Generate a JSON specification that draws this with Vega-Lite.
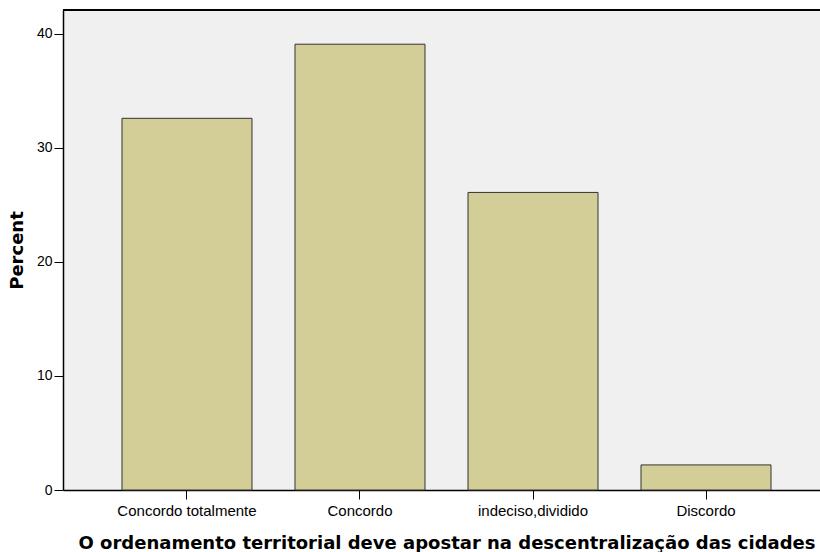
{
  "$schema": "https://vega.github.io/schema/vega-lite/v6.json",
  "autosize": "none",
  "width": 757,
  "height": 480,
  "padding": {"left": 63, "top": 10, "right": 0, "bottom": 62},
  "background": "white",
  "config": {"view": {"fill": "#F0F0F0", "stroke": null}},
  "data": {"values": [
    {"category": "Concordo totalmente", "percent": 32.6},
    {"category": "Concordo", "percent": 39.1},
    {"category": "indeciso,dividido", "percent": 26.1},
    {"category": "Discordo", "percent": 2.2}
  ]},
  "layer": [
    {
      "mark": {"type": "bar", "fill": "#D3CE97", "stroke": "#333333", "strokeWidth": 1},
      "encoding": {
        "x": {
          "field": "category", "type": "nominal", "sort": null,
          "scale": {"range": [0, 767], "paddingInner": 0.2486, "paddingOuter": 0.341},
          "axis": {
            "title": "O ordenamento territorial deve apostar na descentralização das cidades",
            "titleFont": "DejaVu Sans", "titleFontSize": 18, "titleFontWeight": "bold", "titleColor": "#000000",
            "titlePadding": 16,
            "labelFont": "Liberation Sans", "labelFontSize": 15, "labelColor": "#000000", "labelAngle": 0, "labelPadding": 4,
            "tickSize": 9, "tickColor": "#000000", "domainColor": "#000000", "domainWidth": 1.5
          }
        },
        "y": {
          "field": "percent", "type": "quantitative",
          "scale": {"domain": [0, 42.1], "nice": false},
          "axis": {
            "title": "Percent", "values": [0, 10, 20, 30, 40], "grid": false,
            "titleFont": "DejaVu Sans", "titleFontSize": 18, "titleFontWeight": "bold", "titleColor": "#000000",
            "titlePadding": 10,
            "labelFont": "Liberation Sans", "labelFontSize": 14, "labelColor": "#000000", "labelPadding": 2,
            "tickSize": 9, "tickColor": "#000000", "domainColor": "#000000", "domainWidth": 1.5
          }
        }
      }
    },
    {
      "mark": {"type": "rule", "color": "#000000", "strokeWidth": 1.5},
      "encoding": {"y": {"datum": 42.1}}
    }
  ]
}
